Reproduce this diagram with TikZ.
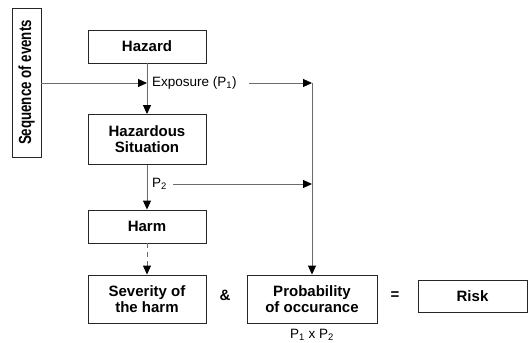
\documentclass[tikz,border=0pt]{standalone}
\usepackage{fontspec}
\setmainfont{Liberation Sans}
\usetikzlibrary{arrows.meta}
\begin{document}
\begin{tikzpicture}[x=1pt,y=-1pt,
  box/.style={draw=black!85, line width=0.9pt, minimum width=118pt, align=center,
    font=\fontsize{15}{16}\selectfont\bfseries, inner sep=0pt},
  conn/.style={draw=black!58, line width=1pt},
  tip/.style={-{Triangle[length=9pt,width=8pt,color=black]}},
  lbl/.style={font=\fontsize{13.5}{14}\selectfont, inner sep=0pt},
  op/.style={font=\fontsize{15}{16}\selectfont\bfseries, inner sep=0pt}
]
\useasboundingbox (0,0) rectangle (528,343);

% vertical side label
\node[draw=black!85, line width=0.9pt, minimum width=29pt, minimum height=149pt, inner sep=0pt]
  (seq) at (26.5,82.5)
  {\rotatebox{90}{\scalebox{0.76}[1]{\fontsize{17.5}{18}\selectfont\bfseries Sequence of events}}};

% main chain
\node[box, minimum height=33pt] (hazard) at (147,46.5) {Hazard};
\node[box, minimum height=50pt] (hs) at (147,139.5) {Hazardous\\Situation};
\node[box, minimum height=33pt] (harm) at (147,226.5) {Harm};
\node[box, minimum height=48pt] (sev) at (147,299) {Severity of\\the harm};
\node[box, minimum height=48pt, minimum width=130pt] (prob) at (312,299) {Probability\\of occurance};
\node[box, minimum height=32pt, minimum width=109pt] (risk) at (472.5,296) {Risk};

\node[op] (amp) at (225,295) {\&};
\node[op] (eq) at (395,296) {=};
\node[lbl] (p1p2) at (312,334.5) {P\textsubscript{1} x P\textsubscript{2}};

% junction points
\coordinate (j0) at (147,83);
\coordinate (j1) at (312,83);
\coordinate (j2) at (312,184);

% labels on the flow
\node[lbl, anchor=west] (expo) at (152,83) {Exposure (P\textsubscript{1})};
\node[lbl, anchor=west] (p2) at (152,184) {P\textsubscript{2}};

% connectors
\draw[conn,tip] (seq.east |- j0) -- (j0);
\draw[conn,tip] (hazard.south) -- (hs.north);
\draw[conn,tip] ([xshift=12pt]expo.east) -- (j1);
\draw[conn,tip] (j1) -- (prob.north);
\draw[conn,tip] (hs.south) -- (harm.north);
\draw[conn,tip] ([xshift=6pt]p2.east) -- (j2);
\draw[conn,tip,dash pattern=on 5pt off 4pt] (harm.south) -- (sev.north);
\end{tikzpicture}
\end{document}
